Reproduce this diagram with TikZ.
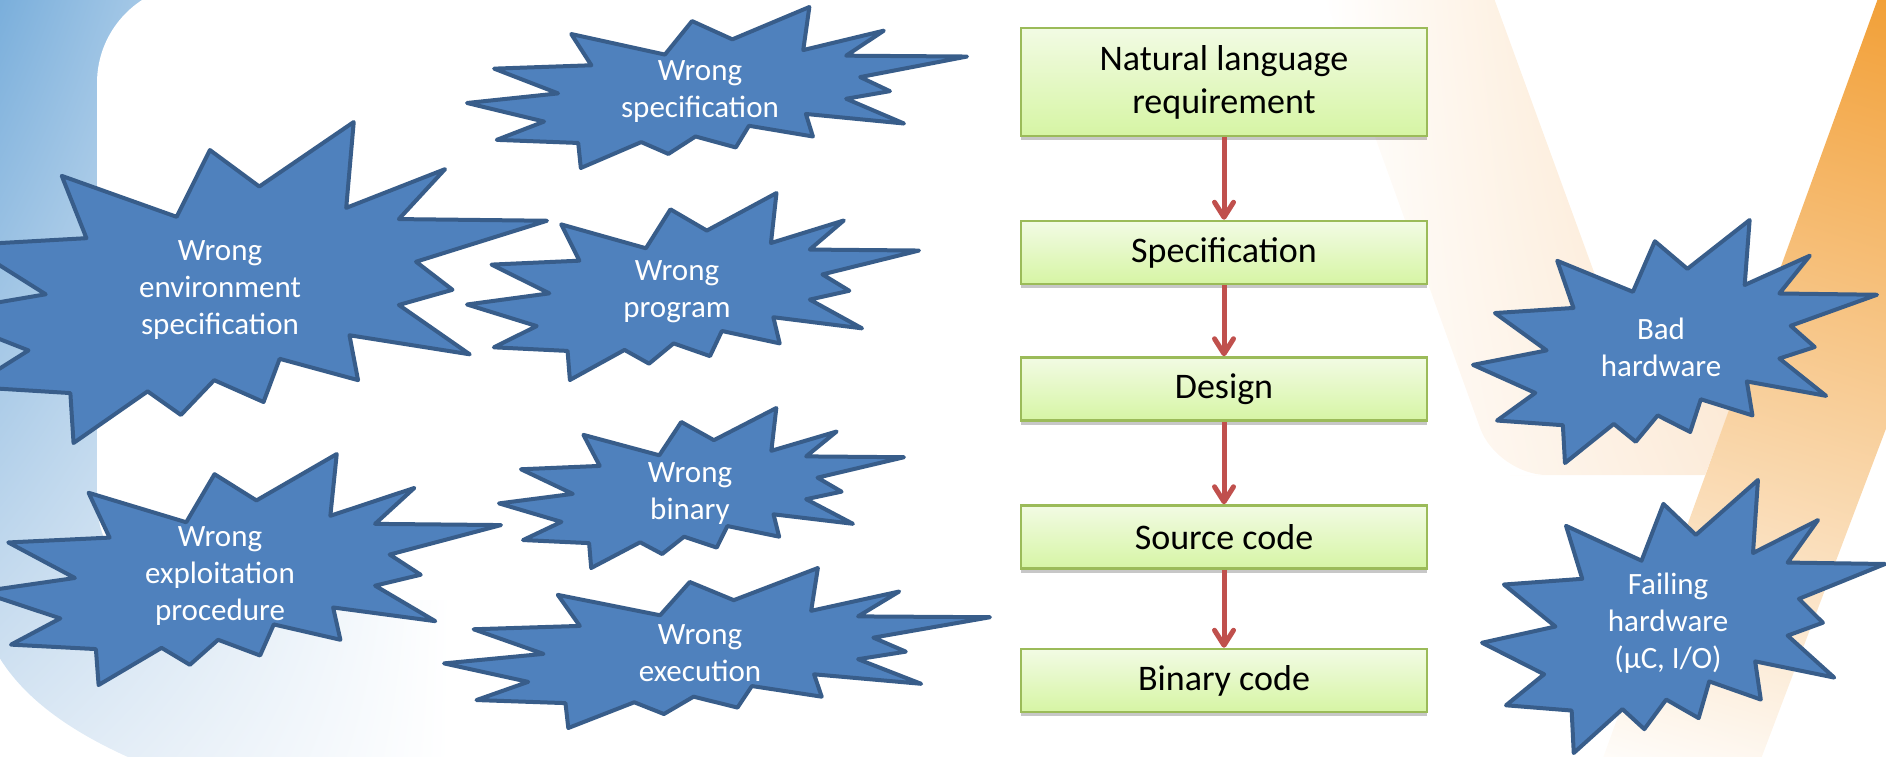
\documentclass[tikz,border=0pt]{standalone}
\usepackage{fontspec}
\setmainfont{Carlito}
\usetikzlibrary{arrows.meta,shadows,shadings}
\definecolor{starfill}{HTML}{4F81BD}
\definecolor{starline}{HTML}{385D8A}
\definecolor{boxline}{HTML}{9BBB59}
\definecolor{boxtop}{HTML}{F2FBE4}
\definecolor{boxbot}{HTML}{D6F5A4}
\definecolor{arrowred}{HTML}{C0504D}
\definecolor{blueA}{HTML}{76ACDA}
\definecolor{blueC}{HTML}{DFEAF5}
\definecolor{orA}{HTML}{F3A84A}
\definecolor{orB}{HTML}{F19A2A}
\definecolor{orC}{HTML}{FCF0E2}
\definecolor{peach}{HTML}{FBDFBE}
\definecolor{peachB}{HTML}{FCEBD9}
\tikzset{
  starshape/.style={fill=starfill, draw=starline, line width=4pt, line join=round},
  startext/.style={text=white, align=center, inner sep=0pt, font=\fontsize{31}{37}\selectfont},
  stepbox/.style={draw=boxline, line width=2.5pt, top color=boxtop, bottom color=boxbot,
    minimum width=406pt, minimum height=63pt, inner sep=0pt, align=center,
    font=\fontsize{36}{43}\selectfont,
    drop shadow={shadow xshift=0pt, shadow yshift=-4pt, fill=black, opacity=0.22}},
  arr/.style={draw=arrowred, line width=5pt, -{Straight Barb[length=15pt,width=19pt,round]}}
}
\newcommand\explosion[4]{%
  \begin{scope}[shift={(#1,#2)},xscale=#3/216,yscale=#4/216]
    \draw[starshape] (114.62,43.42) -- (147.90,0) -- (145.25,57.77) -- (180.07,31.72)
      -- (163.80,65.32) -- (216,66.45) -- (169.85,94.02) -- (182.70,112.90)
      -- (163.80,123.10) -- (188.77,156.32) -- (146.40,143.50) -- (149.42,173.70)
      -- (121.80,159.35) -- (116.12,188.42) -- (98.72,173.70) -- (87.00,197.12)
      -- (75.27,181.25) -- (49.17,216) -- (48.05,182.40) -- (12.85,178.25)
      -- (33.30,153.70) -- (0,128.77) -- (39.35,115.92) -- (11.72,82.70)
      -- (53.72,78.17) -- (45.02,36.25) -- (85.50,63.82) -- (97.22,18.87) -- cycle;
  \end{scope}}
\begin{document}
\begin{tikzpicture}[x=1pt,y=-1pt]
\useasboundingbox (0,0) rectangle (1886,756);
\clip (0,0) rectangle (1886,756);
% blue background element
\shade[upper left=blueA, upper right=white, lower left=blueC, lower right=white]
  (-10,-10) -- (450,-10) -- (450,800) -- (200,785)
  .. controls (90,748) and (25,705) .. (-5,650) -- cycle;
\fill[white, rounded corners=99pt] (97,-16) rectangle (900,600);
% orange background element
\shade[upper left=white, upper right=peach, lower left=white, lower right=peachB]
  (1322,-10) [rounded corners=50pt] -- (1497,475) -- (1560,475) [sharp corners]
  -- (1705,475) -- (1737,390) -- (1637,390) -- (1491,-10) -- cycle;
\shade[upper left=orA, upper right=orB, lower left=white, lower right=orC]
  (1881,-10) -- (1595,780) -- (1753,780) -- (2052,-10) -- cycle;
% flow of boxes
\node[stepbox, minimum height=108pt] (nat) at (1224,82) {Natural language\\requirement};
\node[stepbox] (spec) at (1224,252.5) {Specification};
\node[stepbox] (design) at (1224,389) {Design};
\node[stepbox] (src) at (1224,537) {Source code};
\node[stepbox] (bin) at (1224,680.5) {Binary code};
\draw[arr] (nat) -- (spec);
\draw[arr] (spec) -- (design);
\draw[arr] (design) -- (src);
\draw[arr] (src) -- (bin);
% explosions
\explosion{467}{7}{500}{161}
\node[startext] (wspec) at (700,92) {Wrong\\specification};
\explosion{467}{193}{452}{187}
\node[startext] (wprog) at (677,292) {Wrong\\program};
\explosion{-66}{122}{613}{321}
\node[startext] (wenv) at (220,290) {Wrong\\environment\\specification};
\explosion{499}{408}{405}{160}
\node[startext] (wbin) at (690,494) {Wrong\\binary};
\explosion{-20}{454}{521}{231}
\node[startext] (wexp) at (220,576) {Wrong\\exploitation\\procedure};
\explosion{444}{568}{546}{160}
\node[startext] (wexec) at (700,653) {Wrong\\execution};
\explosion{1473}{220}{404}{243}
\node[startext] (bad) at (1661,347) {Bad\\hardware};
\explosion{1482}{480}{403}{273}
\node[startext] (fail) at (1668,623) {Failing\\hardware\\(µC, I/O)};
\end{tikzpicture}
\end{document}
